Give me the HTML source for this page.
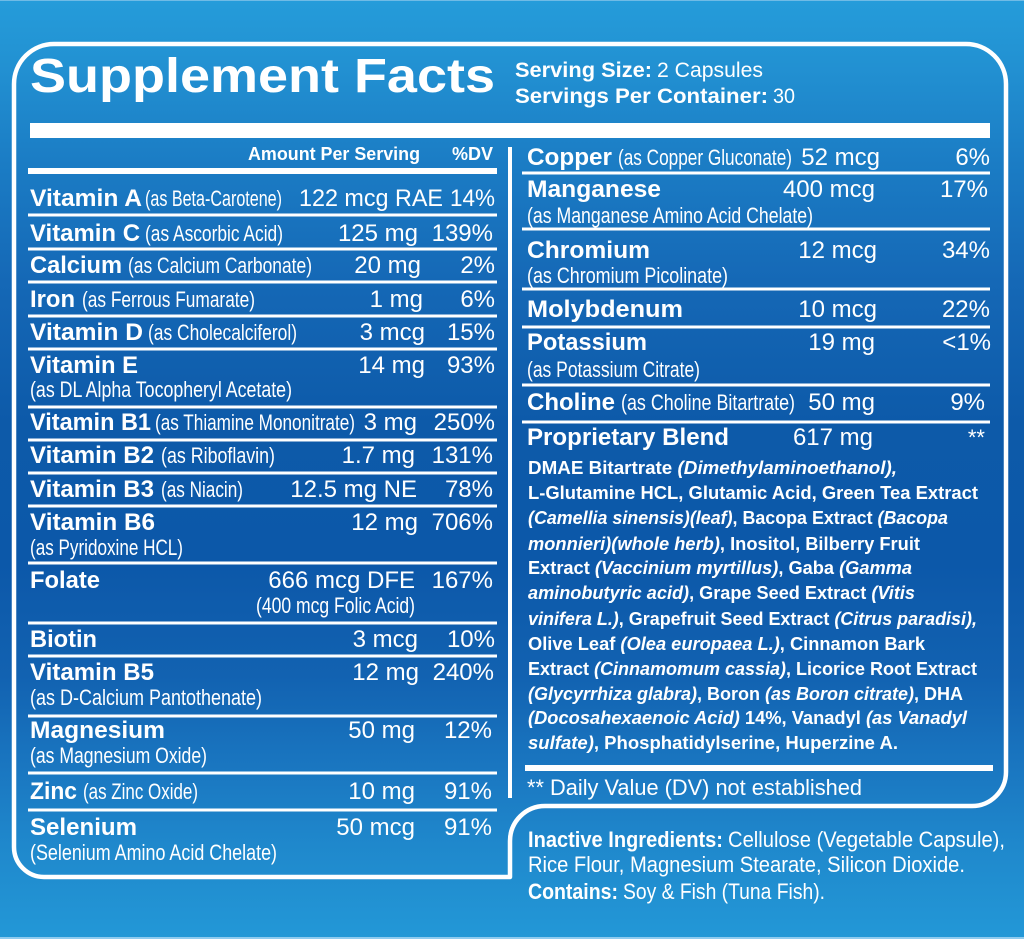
<!DOCTYPE html>
<html><head><meta charset="utf-8"><style>
html,body{margin:0;padding:0;width:1024px;height:939px;overflow:hidden;background:#1568b6}
svg{display:block}
text{font-family:"Liberation Sans",Arial,sans-serif;fill:#fff}
.b{font-weight:bold;font-size:24px}
.r{font-size:24px}
.c{font-size:22px}
.bl{font-weight:bold;font-size:18px}
.i{font-style:italic}
</style></head><body>
<svg width="1024" height="939" viewBox="0 0 1024 939" xmlns="http://www.w3.org/2000/svg">
<defs>
<linearGradient id="bg" x1="0" y1="0" x2="0" y2="1">
<stop offset="0" stop-color="#259cda"/>
<stop offset="0.07" stop-color="#2291d2"/>
<stop offset="0.17" stop-color="#1b7dc5"/>
<stop offset="0.3" stop-color="#1568b6"/>
<stop offset="0.45" stop-color="#0d5aa9"/>
<stop offset="0.6" stop-color="#0c58a9"/>
<stop offset="0.72" stop-color="#1262b1"/>
<stop offset="0.82" stop-color="#1a77c1"/>
<stop offset="0.9" stop-color="#1f88cc"/>
<stop offset="1" stop-color="#2398d7"/>
</linearGradient>
</defs>
<rect x="0" y="0" width="1024" height="939" fill="url(#bg)"/>
<rect x="0" y="0" width="1024" height="1" fill="#6fbbe6"/>
<rect x="0" y="937" width="1024" height="2" fill="#8fcbef"/>

<!-- border -->
<path d="M14 84 A40 40 0 0 1 54 44 L966 44 A40 40 0 0 1 1006 84 L1006 772 A34 34 0 0 1 972 806 L545 806 A35 35 0 0 0 510 841 L510 877 L44 877 A30 30 0 0 1 14 847 Z" fill="none" stroke="#fff" stroke-width="4.5" stroke-linejoin="round"/>

<!-- bars and lines -->
<rect x="30" y="123" width="960" height="15" fill="#fff"/>
<rect x="508" y="147" width="4" height="651" fill="#fff"/>
<rect x="28" y="168" width="469" height="6" fill="#fff"/>
<g fill="#fff">
<rect x="28" y="213.5" width="469" height="3"/>
<rect x="28" y="247.5" width="469" height="3"/>
<rect x="28" y="280.5" width="469" height="3"/>
<rect x="28" y="314.5" width="469" height="3"/>
<rect x="28" y="347.5" width="469" height="3"/>
<rect x="28" y="405.5" width="469" height="3"/>
<rect x="28" y="438.5" width="469" height="3"/>
<rect x="28" y="471.5" width="469" height="3"/>
<rect x="28" y="504.5" width="469" height="3"/>
<rect x="28" y="561.5" width="469" height="3"/>
<rect x="28" y="621.5" width="469" height="3"/>
<rect x="28" y="654.5" width="469" height="3"/>
<rect x="28" y="714.5" width="469" height="3"/>
<rect x="28" y="771.5" width="469" height="3"/>
<rect x="28" y="808.5" width="469" height="3"/>

<rect x="522" y="171.5" width="468" height="3"/>
<rect x="522" y="227.5" width="468" height="3"/>
<rect x="522" y="287.5" width="468" height="3"/>
<rect x="522" y="325.5" width="468" height="3"/>
<rect x="522" y="383.5" width="468" height="3"/>
<rect x="522" y="420.5" width="468" height="3"/>
<rect x="525" y="765" width="468" height="6"/>
</g>

<!-- header -->
<text x="30" y="92" font-weight="bold" font-size="48" textLength="465" lengthAdjust="spacingAndGlyphs">Supplement Facts</text>
<text x="515" y="77" font-weight="bold" font-size="21.5" textLength="137" lengthAdjust="spacingAndGlyphs">Serving Size:</text>
<text x="657" y="77" font-size="21.5" textLength="106" lengthAdjust="spacingAndGlyphs">2 Capsules</text>
<text x="515" y="103" font-weight="bold" font-size="21.5" textLength="253" lengthAdjust="spacingAndGlyphs">Servings Per Container:</text>
<text x="773" y="103" font-size="21.5" textLength="22" lengthAdjust="spacingAndGlyphs">30</text>

<text x="248" y="160" class="bl" textLength="172" lengthAdjust="spacingAndGlyphs">Amount Per Serving</text>
<text x="493" y="160" class="bl" text-anchor="end">%DV</text>

<!-- left column -->
<text x="30" y="206" class="b" textLength="112" lengthAdjust="spacingAndGlyphs">Vitamin A</text>
<text x="145" y="206" class="c" textLength="137" lengthAdjust="spacingAndGlyphs">(as Beta-Carotene)</text>
<text x="299" y="206" class="r" textLength="144" lengthAdjust="spacingAndGlyphs">122 mcg RAE</text>
<text x="450" y="206" class="r" textLength="45" lengthAdjust="spacingAndGlyphs">14%</text>

<text x="30" y="241" class="b" textLength="110" lengthAdjust="spacingAndGlyphs">Vitamin C</text>
<text x="145" y="241" class="c" textLength="138" lengthAdjust="spacingAndGlyphs">(as Ascorbic Acid)</text>
<text x="418" y="241" class="r" text-anchor="end">125 mg</text>
<text x="493" y="241" class="r" text-anchor="end">139%</text>

<text x="30" y="273" class="b" textLength="92" lengthAdjust="spacingAndGlyphs">Calcium</text>
<text x="128" y="273" class="c" textLength="184" lengthAdjust="spacingAndGlyphs">(as Calcium Carbonate)</text>
<text x="421" y="273" class="r" text-anchor="end">20 mg</text>
<text x="495" y="273" class="r" text-anchor="end">2%</text>

<text x="30" y="307" class="b" textLength="45" lengthAdjust="spacingAndGlyphs">Iron</text>
<text x="82" y="307" class="c" textLength="173" lengthAdjust="spacingAndGlyphs">(as Ferrous Fumarate)</text>
<text x="423" y="307" class="r" text-anchor="end">1 mg</text>
<text x="495" y="307" class="r" text-anchor="end">6%</text>

<text x="30" y="340" class="b" textLength="113" lengthAdjust="spacingAndGlyphs">Vitamin D</text>
<text x="148" y="340" class="c" textLength="149" lengthAdjust="spacingAndGlyphs">(as Cholecalciferol)</text>
<text x="425" y="340" class="r" text-anchor="end">3 mcg</text>
<text x="495" y="340" class="r" text-anchor="end">15%</text>

<text x="30" y="373" class="b" textLength="108" lengthAdjust="spacingAndGlyphs">Vitamin E</text>
<text x="425" y="373" class="r" text-anchor="end">14 mg</text>
<text x="495" y="373" class="r" text-anchor="end">93%</text>
<text x="30" y="397" class="c" textLength="262" lengthAdjust="spacingAndGlyphs">(as DL Alpha Tocopheryl Acetate)</text>

<text x="30" y="430" class="b" textLength="121" lengthAdjust="spacingAndGlyphs">Vitamin B1</text>
<text x="155" y="430" class="c" textLength="200" lengthAdjust="spacingAndGlyphs">(as Thiamine Mononitrate)</text>
<text x="417" y="430" class="r" text-anchor="end">3 mg</text>
<text x="495" y="430" class="r" text-anchor="end">250%</text>

<text x="30" y="463" class="b" textLength="124" lengthAdjust="spacingAndGlyphs">Vitamin B2</text>
<text x="161" y="463" class="c" textLength="114" lengthAdjust="spacingAndGlyphs">(as Riboflavin)</text>
<text x="415" y="463" class="r" text-anchor="end">1.7 mg</text>
<text x="493" y="463" class="r" text-anchor="end">131%</text>

<text x="30" y="497" class="b" textLength="124" lengthAdjust="spacingAndGlyphs">Vitamin B3</text>
<text x="161" y="497" class="c" textLength="82" lengthAdjust="spacingAndGlyphs">(as Niacin)</text>
<text x="417" y="497" class="r" text-anchor="end">12.5 mg NE</text>
<text x="493" y="497" class="r" text-anchor="end">78%</text>

<text x="30" y="530" class="b" textLength="125" lengthAdjust="spacingAndGlyphs">Vitamin B6</text>
<text x="418" y="530" class="r" text-anchor="end">12 mg</text>
<text x="493" y="530" class="r" text-anchor="end">706%</text>
<text x="30" y="555" class="c" textLength="153" lengthAdjust="spacingAndGlyphs">(as Pyridoxine HCL)</text>

<text x="30" y="588" class="b" textLength="70" lengthAdjust="spacingAndGlyphs">Folate</text>
<text x="415" y="588" class="r" text-anchor="end">666 mcg DFE</text>
<text x="493" y="588" class="r" text-anchor="end">167%</text>
<text x="256" y="613" class="c" textLength="159" lengthAdjust="spacingAndGlyphs">(400 mcg Folic Acid)</text>

<text x="30" y="647" class="b" textLength="67" lengthAdjust="spacingAndGlyphs">Biotin</text>
<text x="418" y="647" class="r" text-anchor="end">3 mcg</text>
<text x="495" y="647" class="r" text-anchor="end">10%</text>

<text x="30" y="680" class="b" textLength="124" lengthAdjust="spacingAndGlyphs">Vitamin B5</text>
<text x="419" y="680" class="r" text-anchor="end">12 mg</text>
<text x="494" y="680" class="r" text-anchor="end">240%</text>
<text x="30" y="705" class="c" textLength="232" lengthAdjust="spacingAndGlyphs">(as D-Calcium Pantothenate)</text>

<text x="30" y="738" class="b" textLength="135" lengthAdjust="spacingAndGlyphs">Magnesium</text>
<text x="415" y="738" class="r" text-anchor="end">50 mg</text>
<text x="492" y="738" class="r" text-anchor="end">12%</text>
<text x="30" y="763" class="c" textLength="177" lengthAdjust="spacingAndGlyphs">(as Magnesium Oxide)</text>

<text x="30" y="799" class="b" textLength="47" lengthAdjust="spacingAndGlyphs">Zinc</text>
<text x="83" y="799" class="c" textLength="115" lengthAdjust="spacingAndGlyphs">(as Zinc Oxide)</text>
<text x="415" y="799" class="r" text-anchor="end">10 mg</text>
<text x="492" y="799" class="r" text-anchor="end">91%</text>

<text x="30" y="835" class="b" textLength="107" lengthAdjust="spacingAndGlyphs">Selenium</text>
<text x="415" y="835" class="r" text-anchor="end">50 mcg</text>
<text x="492" y="835" class="r" text-anchor="end">91%</text>
<text x="30" y="860" class="c" textLength="247" lengthAdjust="spacingAndGlyphs">(Selenium Amino Acid Chelate)</text>

<!-- right column -->
<text x="527" y="165" class="b" textLength="85" lengthAdjust="spacingAndGlyphs">Copper</text>
<text x="618" y="165" class="c" textLength="174" lengthAdjust="spacingAndGlyphs">(as Copper Gluconate)</text>
<text x="880" y="165" class="r" text-anchor="end">52 mcg</text>
<text x="990" y="165" class="r" text-anchor="end">6%</text>

<text x="527" y="197" class="b" textLength="134" lengthAdjust="spacingAndGlyphs">Manganese</text>
<text x="875" y="197" class="r" text-anchor="end">400 mcg</text>
<text x="988" y="197" class="r" text-anchor="end">17%</text>
<text x="527" y="223" class="c" textLength="286" lengthAdjust="spacingAndGlyphs">(as Manganese Amino Acid Chelate)</text>

<text x="527" y="258" class="b" textLength="123" lengthAdjust="spacingAndGlyphs">Chromium</text>
<text x="877" y="258" class="r" text-anchor="end">12 mcg</text>
<text x="990" y="258" class="r" text-anchor="end">34%</text>
<text x="527" y="283" class="c" textLength="201" lengthAdjust="spacingAndGlyphs">(as Chromium Picolinate)</text>

<text x="527" y="317" class="b" textLength="156" lengthAdjust="spacingAndGlyphs">Molybdenum</text>
<text x="877" y="317" class="r" text-anchor="end">10 mcg</text>
<text x="990" y="317" class="r" text-anchor="end">22%</text>

<text x="527" y="350" class="b" textLength="120" lengthAdjust="spacingAndGlyphs">Potassium</text>
<text x="875" y="350" class="r" text-anchor="end">19 mg</text>
<text x="991" y="350" class="r" text-anchor="end">&lt;1%</text>
<text x="527" y="377" class="c" textLength="173" lengthAdjust="spacingAndGlyphs">(as Potassium Citrate)</text>

<text x="527" y="410" class="b" textLength="88" lengthAdjust="spacingAndGlyphs">Choline</text>
<text x="621" y="410" class="c" textLength="174" lengthAdjust="spacingAndGlyphs">(as Choline Bitartrate)</text>
<text x="875" y="410" class="r" text-anchor="end">50 mg</text>
<text x="985" y="410" class="r" text-anchor="end">9%</text>

<text x="527" y="445" class="b" textLength="202" lengthAdjust="spacingAndGlyphs">Proprietary Blend</text>
<text x="873" y="445" class="r" text-anchor="end">617 mg</text>
<text x="985" y="445" font-size="22" text-anchor="end">**</text>

<!-- blend -->
<text x="528" y="474" class="bl" textLength="369" lengthAdjust="spacingAndGlyphs">DMAE Bitartrate <tspan class="i">(Dimethylaminoethanol),</tspan></text>
<text x="528" y="499" class="bl" textLength="450" lengthAdjust="spacingAndGlyphs">L-Glutamine HCL, Glutamic Acid, Green Tea Extract</text>
<text x="528" y="524" class="bl" textLength="420" lengthAdjust="spacingAndGlyphs"><tspan class="i">(Camellia sinensis)(leaf)</tspan>, Bacopa Extract <tspan class="i">(Bacopa</tspan></text>
<text x="528" y="550" class="bl" textLength="392" lengthAdjust="spacingAndGlyphs"><tspan class="i">monnieri)(whole herb)</tspan>, Inositol, Bilberry Fruit</text>
<text x="528" y="574" class="bl" textLength="384" lengthAdjust="spacingAndGlyphs">Extract <tspan class="i">(Vaccinium myrtillus)</tspan>, Gaba <tspan class="i">(Gamma</tspan></text>
<text x="528" y="599" class="bl" textLength="387" lengthAdjust="spacingAndGlyphs"><tspan class="i">aminobutyric acid)</tspan>, Grape Seed Extract <tspan class="i">(Vitis</tspan></text>
<text x="528" y="625" class="bl" textLength="449" lengthAdjust="spacingAndGlyphs"><tspan class="i">vinifera L.)</tspan>, Grapefruit Seed Extract <tspan class="i">(Citrus paradisi),</tspan></text>
<text x="528" y="650" class="bl" textLength="397" lengthAdjust="spacingAndGlyphs">Olive Leaf <tspan class="i">(Olea europaea L.)</tspan>, Cinnamon Bark</text>
<text x="528" y="675" class="bl" textLength="449" lengthAdjust="spacingAndGlyphs">Extract <tspan class="i">(Cinnamomum cassia)</tspan>, Licorice Root Extract</text>
<text x="528" y="700" class="bl" textLength="435" lengthAdjust="spacingAndGlyphs"><tspan class="i">(Glycyrrhiza glabra)</tspan>, Boron <tspan class="i">(as Boron citrate)</tspan>, DHA</text>
<text x="528" y="724" class="bl" textLength="439" lengthAdjust="spacingAndGlyphs"><tspan class="i">(Docosahexaenoic Acid)</tspan> 14%, Vanadyl <tspan class="i">(as Vanadyl</tspan></text>
<text x="528" y="749" class="bl" textLength="370" lengthAdjust="spacingAndGlyphs"><tspan class="i">sulfate)</tspan>, Phosphatidylserine, Huperzine A.</text>

<text x="527" y="795" font-size="22" textLength="335" lengthAdjust="spacingAndGlyphs">** Daily Value (DV) not established</text>

<!-- inactive -->
<text x="528" y="847" font-size="22" font-weight="bold" textLength="195" lengthAdjust="spacingAndGlyphs">Inactive Ingredients:</text>
<text x="728" y="847" font-size="22" textLength="277" lengthAdjust="spacingAndGlyphs">Cellulose (Vegetable Capsule),</text>
<text x="528" y="872" font-size="22" textLength="437" lengthAdjust="spacingAndGlyphs">Rice Flour, Magnesium Stearate, Silicon Dioxide.</text>
<text x="528" y="899" font-size="22" font-weight="bold" textLength="90" lengthAdjust="spacingAndGlyphs">Contains:</text>
<text x="623" y="899" font-size="22" textLength="202" lengthAdjust="spacingAndGlyphs">Soy &amp; Fish (Tuna Fish).</text>
</svg>
</body></html>
